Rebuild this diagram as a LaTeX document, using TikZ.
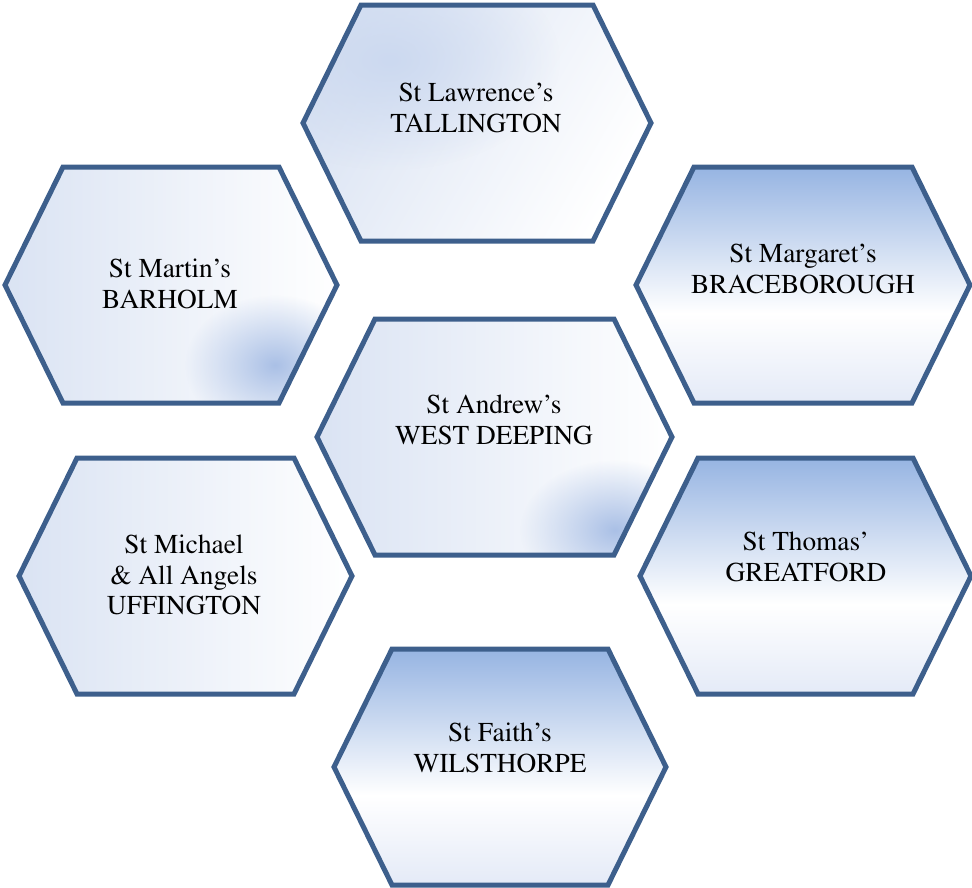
\documentclass[tikz,border=0pt]{standalone}
\usepackage[T1]{fontenc}
\renewcommand{\rmdefault}{ptm}
\usetikzlibrary{fadings}
\definecolor{hexline}{RGB}{61,95,140}
\definecolor{hexblue}{RGB}{150,180,226}
\definecolor{hexpale}{RGB}{218,227,243}
\definecolor{hexlow}{RGB}{228,234,247}
\definecolor{hexspot}{RGB}{170,192,230}
\tikzfading[name=spotfade, inner color=transparent!0, outer color=transparent!100]
\pgfdeclareverticalshading{deepshade}{100bp}{color(0bp)=(hexlow); color(25bp)=(hexlow); color(44bp)=(white); color(75bp)=(hexblue); color(100bp)=(hexblue)}

% hexagon: centre x, centre y, half width (half height 118, slant 58)
\newcommand{\hexshape}[3]{({#1-#3},#2) -- ({#1-#3+58},{#2-118}) -- ({#1+#3-58},{#2-118}) -- ({#1+#3},#2) -- ({#1+#3-58},{#2+118}) -- ({#1-#3+58},{#2+118}) -- cycle}

\begin{document}
\begin{tikzpicture}[
			x=1pt, y=-1pt,
			hexedge/.style={draw=hexline, line width=5pt, line join=miter},
			pale/.style={left color=hexpale, right color=white},
			deep/.style={shading=deepshade},
			church/.style={align=center, text=black, font=\rmfamily\fontsize{27.3}{30.5}\selectfont, inner sep=0pt}
			]
			\useasboundingbox (0,0) rectangle (972,887);

			% pale hexagons
			\shade[pale, shading angle=60] \hexshape{477}{123}{174};
			\shade[pale] \hexshape{171}{285}{166};
			\shade[pale] \hexshape{494.5}{437}{177.5};
			\shade[pale] \hexshape{185.5}{576}{166.5};

			% blue patches
			\begin{scope}
				\clip \hexshape{171}{285}{166};
				\fill[hexspot, path fading=spotfade] (275,365) ellipse (90 and 70);
			\end{scope}
			\begin{scope}
				\clip \hexshape{494.5}{437}{177.5};
				\fill[hexspot, path fading=spotfade] (615,530) ellipse (95 and 70);
			\end{scope}
			\begin{scope}
				\clip \hexshape{477}{123}{174};
				\fill[hexspot!60, path fading=spotfade] (390,60) ellipse (170 and 110);
			\end{scope}

			% blue-topped hexagons
			\shade[deep] \hexshape{803}{285}{167};
			\shade[deep] \hexshape{805.5}{576}{165.5};
			\shade[deep] \hexshape{500}{767}{166};

			% outlines
			\draw[hexedge] \hexshape{477}{123}{174};
			\draw[hexedge] \hexshape{171}{285}{166};
			\draw[hexedge] \hexshape{803}{285}{167};
			\draw[hexedge] \hexshape{494.5}{437}{177.5};
			\draw[hexedge] \hexshape{185.5}{576}{166.5};
			\draw[hexedge] \hexshape{805.5}{576}{165.5};
			\draw[hexedge] \hexshape{500}{767}{166};

			% names
			\node[church] (tallington) at (476,108) {St Lawrence's\\TALLINGTON};
			\node[church] (barholm) at (170,284) {St Martin's\\BARHOLM};
			\node[church] (braceborough) at (803,269) {St Margaret's\\BRACEBOROUGH};
			\node[church] (westdeeping) at (494,420) {St Andrew's\\WEST DEEPING};
			\node[church] (uffington) at (184,575) {St Michael\\\& All Angels\\UFFINGTON};
			\node[church] (greatford) at (806,557) {St Thomas'\\GREATFORD};
			\node[church] (wilsthorpe) at (500,748) {St Faith's\\WILSTHORPE};
		\end{tikzpicture}
\end{document}
